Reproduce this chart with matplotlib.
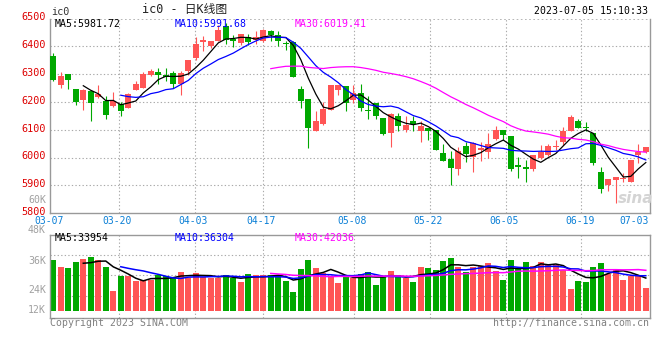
import matplotlib
matplotlib.use("Agg")
import matplotlib.pyplot as plt
import matplotlib.transforms as mtransforms
import numpy as np
import pandas as pd

# ---------------- data ----------------
opens = [6364, 6260, 6300, 6248, 6206, 6238, 6219, 6202, 6185, 6192,
         6180, 6244, 6252, 6298, 6308, 6298, 6304, 6266, 6310, 6358,
         6414, 6400, 6420, 6474, 6428, 6412, 6434, 6422, 6418, 6456,
         6442, 6413, 6416, 6248, 6212, 6096, 6122, 6170, 6242, 6258,
         6206, 6234, 6172, 6196, 6142, 6090, 6150, 6100, 6132, 6094,
         6108, 6098, 6018, 5996, 5960, 6042, 6004, 6028, 6020, 6068,
         6098, 6078, 5974, 5966, 5960, 5998, 6010, 6040, 6058, 6096,
         6130, 6110, 6090, 5950, 5900, 5918, 5924, 5914, 6008, 6020]
highs = [6376, 6308, 6300, 6248, 6248, 6244, 6262, 6222, 6236, 6200,
         6232, 6274, 6308, 6318, 6322, 6322, 6312, 6310, 6352, 6434,
         6436, 6418, 6478, 6484, 6442, 6444, 6446, 6456, 6462, 6460,
         6456, 6420, 6418, 6256, 6212, 6166, 6200, 6262, 6260, 6258,
         6262, 6266, 6220, 6196, 6142, 6162, 6162, 6148, 6148, 6130,
         6108, 6100, 6050, 6024, 6040, 6058, 6058, 6058, 6090, 6114,
         6098, 6078, 6004, 5992, 6010, 6046, 6050, 6064, 6110, 6152,
         6140, 6128, 6090, 5966, 5924, 5932, 5944, 5992, 6050, 6038]
lows = [6274, 6250, 6245, 6190, 6172, 6130, 6214, 6138, 6183, 6150,
        6178, 6244, 6250, 6294, 6264, 6274, 6252, 6226, 6298, 6352,
        6382, 6394, 6418, 6410, 6396, 6406, 6404, 6408, 6416, 6418,
        6400, 6386, 6288, 6178, 6036, 6094, 6118, 6170, 6226, 6166,
        6196, 6168, 6140, 6140, 6080, 6040, 6094, 6092, 6094, 6058,
        6064, 6028, 5988, 5902, 5936, 5986, 5950, 5988, 6000, 6064,
        6064, 5952, 5926, 5914, 5952, 5994, 6006, 6028, 6046, 6094,
        6106, 6094, 5972, 5872, 5880, 5836, 5914, 5914, 5982, 6016]
closes = [6279, 6292, 6278, 6200, 6243, 6197, 6230, 6155, 6203, 6166,
          6228, 6266, 6300, 6312, 6296, 6288, 6263, 6304, 6352, 6410,
          6422, 6418, 6460, 6422, 6418, 6444, 6414, 6432, 6460, 6440,
          6418, 6408, 6290, 6204, 6108, 6132, 6173, 6260, 6260, 6196,
          6232, 6178, 6166, 6148, 6084, 6156, 6112, 6118, 6122, 6112,
          6094, 6028, 5988, 5964, 6024, 6014, 6052, 6036, 6050, 6098,
          6080, 5958, 5968, 5958, 6010, 6022, 6042, 6042, 6096, 6146,
          6108, 6106, 5980, 5888, 5924, 5932, 5928, 5992, 6022, 6038]
volumes = [52600, 45300, 44300, 50500, 53600, 55700, 52600, 45300, 20400, 36000,
           36000, 30800, 31800, 31800, 37000, 36000, 34900, 40100, 33900, 39100,
           34900, 33900, 33900, 37000, 33900, 29800, 38100, 37000, 37000, 37000,
           34900, 30800, 19400, 43300, 52600, 44300, 39100, 34900, 29100, 36000,
           33900, 38100, 40100, 26600, 36000, 41200, 37000, 33900, 29800, 45300,
           44300, 42200, 51600, 54700, 45300, 40100, 45300, 46400, 49500, 41200,
           31800, 52600, 43300, 50500, 46400, 50500, 47400, 47400, 42200, 22500,
           30800, 29800, 45300, 49500, 38100, 42200, 31800, 36000, 36000, 23500]

date_labels = ["03-07", "03-20", "04-03", "04-17", "05-08", "05-22", "06-05", "06-19", "07-03"]
date_index = [0, 9, 19, 28, 40, 50, 60, 70, 78]
price_ticks = [6500, 6400, 6300, 6200, 6100, 6000, 5900, 5800]
vol_tick_labels = ["48K", "36K", "24K", "12K"]

# ---------------- style ----------------
RED = "#ff5555"
GREEN = "#00a800"
GRID = "#aaaaaa"
SPINE = "#999999"
MONO = ["DejaVu Sans Mono", "Noto Sans CJK SC"]
W, H = 660, 360

fig = plt.figure(figsize=(6.6, 3.6), dpi=100)
fig.patch.set_facecolor("white")


def rect(left, top, right, bottom):
    return [left / W, 1 - bottom / H, (right - left) / W, (bottom - top) / H]


def ftext(x, y, s, **kw):
    fig.text(x / W, 1 - y / H, s, **kw)


x = np.arange(len(closes))
o = np.array(opens, float)
c = np.array(closes, float)
up = c >= o
cols = [RED if u else GREEN for u in up]
xlim = ((50 - 53.3) / 7.5, (650 - 53.3) / 7.5)
grid_x = [i * 1.0105 - 0.333 for i in date_index]
dotted = dict(color=GRID, lw=0.8, linestyle=(0, (1.2, 2.0)), zorder=0)

# ---------------- price panel ----------------
ax = fig.add_axes(rect(50, 18.5, 650, 213.3))
ax.set_xlim(*xlim)
ax.set_ylim(5800, 6500)
for v in price_ticks[1:-1]:
    ax.axhline(v, **dotted)
ax.axhline(6500, color=GRID, lw=1.2, linestyle=(0, (1.0, 1.5)), zorder=0)
for gx in grid_x[1:-1]:
    ax.axvline(gx, **dotted)

ax.vlines(x, lows, highs, colors=cols, lw=0.8, zorder=2)
body = np.maximum(np.abs(c - o), 3.5)
ax.bar(x, body, bottom=np.minimum(o, c), width=0.76, color=cols,
       linewidth=0, zorder=3)

cs = pd.Series(closes, dtype=float)
ax.plot(x, cs.rolling(5).mean(), color="black", lw=0.9, zorder=4)
ax.plot(x, cs.rolling(10).mean(), color="#0000ff", lw=0.9, zorder=4)
ax.plot(x, cs.rolling(30).mean(), color="#ff00ff", lw=0.9, zorder=4)

ax.set_xticks([])
ax.set_yticks([])
ax.spines["top"].set_visible(False)
for s in ["left", "right", "bottom"]:
    ax.spines[s].set_color(SPINE)
    ax.spines[s].set_linewidth(1.0)

lab_tr = mtransforms.offset_copy(ax.get_yaxis_transform(), fig=fig, y=1.2, units="dots")
for v in price_ticks:
    ax.text(-0.0067, v, str(v), transform=lab_tr, ha="right",
            va="center", color="#dd0000", fontsize=7.3, family=MONO)

# date labels
for lab, gx in zip(date_labels, grid_x):
    px = 53.3 + 7.5 * gx
    px = min(max(px - 1.5, 49), 634)
    ftext(px, 221, lab, ha="center", va="center", color="#0a7fd6",
          fontsize=7.0, family=MONO)

# ---------------- volume panel ----------------
axv = fig.add_axes(rect(50, 234.7, 650, 318.3))
axv.set_xlim(*xlim)
vlo, vhi = -(318.3 - 310.7) * 1038, (310.7 - 234.7) * 1038
axv.set_ylim(vlo, vhi)
for f in [0.270, 0.514, 0.757]:
    axv.axhline(vlo + f * (vhi - vlo), **dotted)
for gx in grid_x[1:-1]:
    axv.axvline(gx, **dotted)
axv.bar(x, volumes, width=0.8, color=cols, linewidth=0, zorder=2)
vs = pd.Series(volumes, dtype=float)
axv.plot(x, vs.rolling(5).mean(), color="black", lw=1.1, zorder=4)
axv.plot(x, vs.rolling(10).mean(), color="#0000ff", lw=1.1, zorder=4)
axv.plot(x, vs.rolling(30).mean(), color="#ff00ff", lw=1.1, zorder=4)
axv.set_xticks([])
axv.set_yticks([])
for s in axv.spines.values():
    s.set_color(SPINE)
    s.set_linewidth(1.0)

for lab, yy in zip(vol_tick_labels, [230, 260.7, 290, 310]):
    ftext(46, yy, lab, ha="right", va="center", color="#a0a0a0",
          fontsize=7.1, family=MONO)
ftext(46, 200.3, "60K", ha="right", va="center", color="#a0a0a0",
      fontsize=7.1, family=MONO)

# ---------------- texts ----------------
ftext(185, 10, "ic0 - 日K线图", ha="center", va="center", color="#222222",
      fontsize=8.5, family=MONO)
ftext(51, 11.7, "ic0", ha="left", va="center", color="#333333",
      fontsize=7.3, family=MONO)
ftext(648, 11.3, "2023-07-05 15:10:33", ha="right", va="center", color="black",
      fontsize=7.1, family=MONO)

ftext(55, 23.7, "MA5:5981.72", ha="left", va="center", color="black",
      fontsize=7.1, family=MONO)
ftext(175, 23.7, "MA10:5991.68", ha="left", va="center", color="#0000ff",
      fontsize=7.1, family=MONO)
ftext(295, 23.7, "MA30:6019.41", ha="left", va="center", color="#ff00ff",
      fontsize=7.1, family=MONO)

ftext(55, 238.3, "MA5:33954", ha="left", va="center", color="black",
      fontsize=7.1, family=MONO)
ftext(175, 238.3, "MA10:36304", ha="left", va="center", color="#0000ff",
      fontsize=7.1, family=MONO)
ftext(295, 238.3, "MA30:42036", ha="left", va="center", color="#ff00ff",
      fontsize=7.1, family=MONO)

ftext(50, 323, "Copyright 2023 SINA.COM", ha="left", va="center",
      color="#808080", fontsize=7.1, family=MONO)
ftext(649, 323.5, "http://finance.sina.com.cn", ha="right", va="center",
      color="#808080", fontsize=7.1, family=MONO)

ftext(636, 198, "sina", ha="center", va="center", color="#d4d4d4",
      fontsize=11, fontweight="bold", style="italic", family="DejaVu Sans")

fig.savefig("out.png", dpi=100, facecolor="white")
